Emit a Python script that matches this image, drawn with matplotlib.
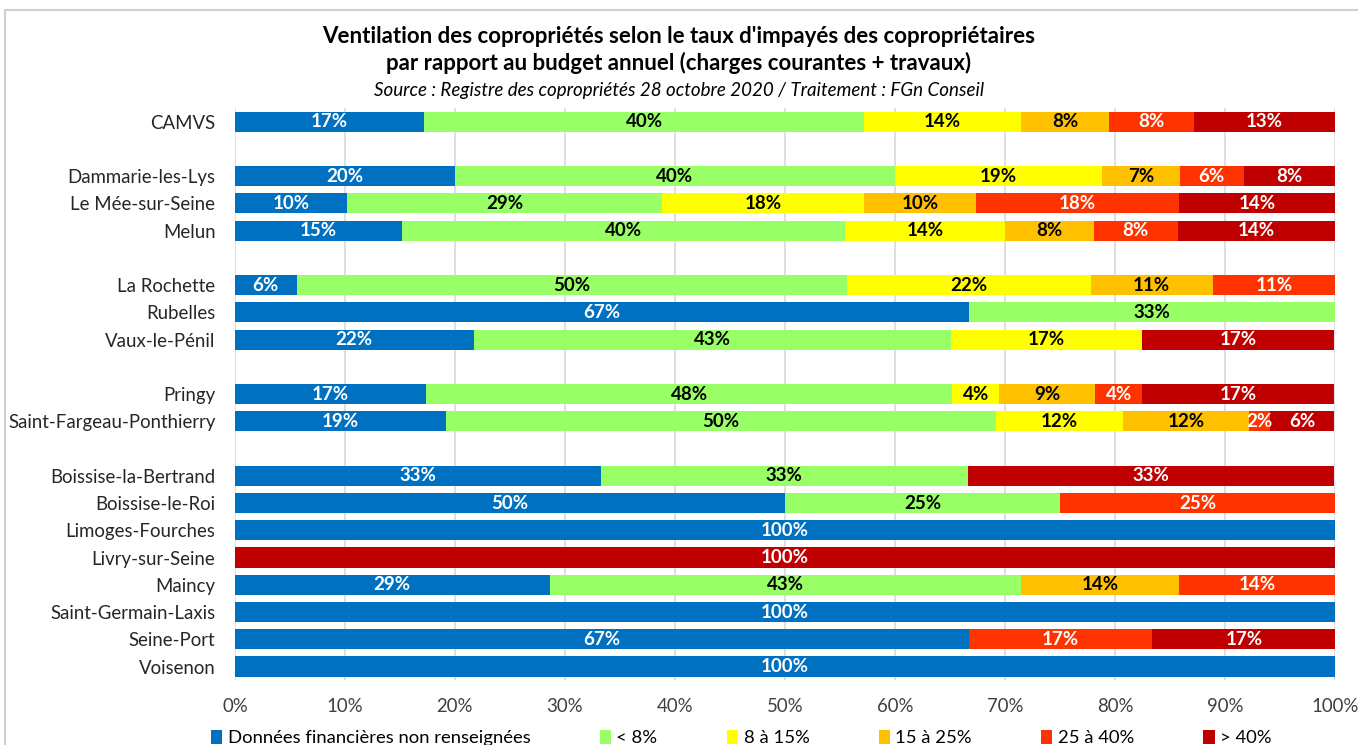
import matplotlib.pyplot as plt
import numpy as np
from matplotlib.patches import Rectangle

# rows (empty string = spacer row between groups)
communes = [
    "CAMVS", "",
    "Dammarie-les-Lys", "Le Mée-sur-Seine", "Melun", "",
    "La Rochette", "Rubelles", "Vaux-le-Pénil", "",
    "Pringy", "Saint-Fargeau-Ponthierry", "",
    "Boissise-la-Bertrand", "Boissise-le-Roi", "Limoges-Fourches",
    "Livry-sur-Seine", "Maincy", "Saint-Germain-Laxis", "Seine-Port", "Voisenon",
]

categories = ["Données financières non renseignées", "< 8%", "8 à 15%",
              "15 à 25%", "25 à 40%", "> 40%"]

non_renseignees = [17.2, 0, 20.0, 10.2, 15.2, 0, 5.6, 66.7, 21.7, 0, 17.4, 19.2, 0,
                   33.3, 50.0, 100, 0, 28.6, 100, 66.7, 100]
moins_8 = [40.0, 0, 40.0, 28.6, 40.3, 0, 50.0, 33.3, 43.4, 0, 47.8, 50.0, 0,
           33.3, 25.0, 0, 0, 42.9, 0, 0, 0]
de_8_a_15 = [14.3, 0, 18.8, 18.4, 14.5, 0, 22.2, 0, 17.4, 0, 4.3, 11.5, 0,
             0, 0, 0, 0, 0, 0, 0, 0]
de_15_a_25 = [8.0, 0, 7.1, 10.2, 8.1, 0, 11.1, 0, 0, 0, 8.7, 11.5, 0,
              0, 0, 0, 0, 14.3, 0, 0, 0]
de_25_a_40 = [7.7, 0, 5.8, 18.4, 7.6, 0, 11.1, 0, 0, 0, 4.3, 1.9, 0,
              0, 25.0, 0, 0, 14.3, 0, 16.7, 0]
plus_40 = [12.8, 0, 8.3, 14.3, 14.3, 0, 0, 0, 17.4, 0, 17.4, 5.8, 0,
           33.3, 0, 0, 100, 0, 0, 16.7, 0]

series = [non_renseignees, moins_8, de_8_a_15, de_15_a_25, de_25_a_40, plus_40]
colors = ["#0070C0", "#99FF66", "#FFFF00", "#FFC000", "#FF3300", "#C00000"]
text_colors = ["white", "black", "black", "black", "white", "white"]

plt.rcParams["font.family"] = ["Lato", "DejaVu Sans"]

fig = plt.figure(figsize=(13.58, 7.45), dpi=100)
ax = fig.add_axes([0.173, 0.087, 0.810, 0.768])

y = np.arange(len(communes))
left = np.zeros(len(communes))
for vals, col, tcol, name in zip(series, colors, text_colors, categories):
    vals = np.array(vals, dtype=float)
    bars = ax.barh(y, vals, left=left, height=0.74, color=col, label=name, zorder=2)
    for b, v in zip(bars, vals):
        if v > 0:
            ax.text(b.get_x() + v / 2, b.get_y() + b.get_height() / 2,
                    "%d%%" % round(v), ha="center", va="center",
                    color=tcol, fontsize=13.5, fontweight="bold", zorder=3)
    left += vals

ax.set_xlim(0, 100)
ax.set_ylim(len(communes) - 0.5, -0.5)
ax.set_yticks(y)
ax.set_yticklabels(communes, fontsize=13.4, color="#262626")
ax.set_xticks(np.arange(0, 101, 10))
ax.set_xticklabels(["%d%%" % t for t in range(0, 101, 10)], fontsize=13.4, color="#404040")
ax.tick_params(length=0)
ax.tick_params(axis="y", pad=14)
ax.tick_params(axis="x", pad=13)
for s in ax.spines.values():
    s.set_visible(False)
ax.grid(axis="x", color="#d9d9d9", linewidth=1.2, zorder=0)
ax.set_axisbelow(True)

fig.text(0.5, 0.951, "Ventilation des copropriétés selon le taux d'impayés des copropriétaires",
         ha="center", va="center", fontsize=16, fontweight="bold")
fig.text(0.5, 0.915, "par rapport au budget annuel (charges courantes + travaux)",
         ha="center", va="center", fontsize=16, fontweight="bold")
fig.text(0.5, 0.878, "Source : Registre des copropriétés 28 octobre 2020 / Traitement : FGn Conseil",
         ha="center", va="center", fontsize=13.5, style="italic")

fig.legend(loc="lower center", bbox_to_anchor=(0.546, -0.024), ncol=6, frameon=False,
           fontsize=13.3, handlelength=0.6, handleheight=0.8, handletextpad=0.3,
           columnspacing=3.75)

fig.patches.append(Rectangle((5 / 1358, -0.01), 1.1, 1 - 10 / 745 + 0.01,
                             transform=fig.transFigure, fill=False,
                             edgecolor="#d0d0d0", linewidth=1.5))

fig.savefig("out.png", dpi=100)
